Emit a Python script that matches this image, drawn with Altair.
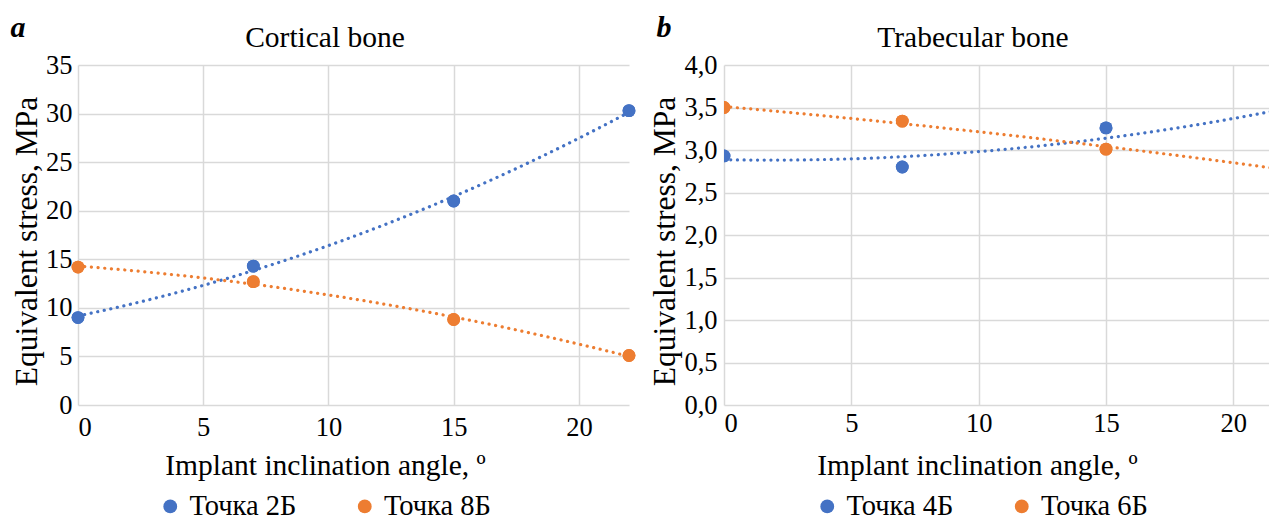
import altair as alt
import pandas as pd

# ---- data ----
angles = [0, 7, 15, 22]
cortical_2b = [9.0, 14.3, 21.0, 30.3]
cortical_8b = [14.2, 12.7, 8.8, 5.1]
trabecular_4b = [2.93, 2.80, 3.26, 3.44]
trabecular_6b = [3.50, 3.34, 3.01, 2.78]
x_ticks = [0, 5, 10, 15, 20]
cortical_y_ticks = [0, 5, 10, 15, 20, 25, 30, 35]
trabecular_y_ticks = [0, 0.5, 1.0, 1.5, 2.0, 2.5, 3.0, 3.5, 4.0]

BLUE = "#4472C4"
ORANGE = "#ED7D31"
FONT = "Liberation Serif"
GRID = "#D9D9D9"


def panel(vals_a, name_a, vals_b, name_b, title, letter, ydomain, yticks, ylabel_expr,
          xmax, width, xlab_pad, xtitle_pad, ylab_pad, xtitle_x, legend_x, title_x, clip, legend_y):
    df = pd.DataFrame({
        "x": angles + angles,
        "y": vals_a + vals_b,
        "s": [name_a] * len(angles) + [name_b] * len(angles),
    })
    xenc = alt.X("x:Q", scale=alt.Scale(domain=[0, xmax], nice=False, zero=False),
                 axis=alt.Axis(values=x_ticks, title="Implant inclination angle, º",
                               labelFont=FONT, labelFontSize=26.5, labelColor="black",
                               titleFont=FONT, titleFontSize=29.5, titleFontWeight="normal",
                               titleColor="black",
                               labelPadding=xlab_pad, titlePadding=xtitle_pad,
                               titleX=xtitle_x, titleAlign="center"))
    yenc = alt.Y("y:Q", scale=alt.Scale(domain=ydomain, nice=False),
                 axis=alt.Axis(values=yticks, title="Equivalent stress, MPa",
                               labelFont=FONT, labelFontSize=26.5, labelColor="black",
                               titleFont=FONT, titleFontSize=31.5, titleFontWeight="normal",
                               titleColor="black",
                               labelExpr=ylabel_expr, labelPadding=ylab_pad,
                               titlePadding=2.5, titleY=176, titleAlign="center"))
    sc = alt.Scale(domain=[name_a, name_b], range=[BLUE, ORANGE])
    color = alt.Color("s:N", scale=sc,
                      legend=alt.Legend(title=None, orient="none", direction="horizontal",
                                        legendX=legend_x, legendY=legend_y,
                                        symbolType="circle", symbolSize=190,
                                        symbolStrokeWidth=0, symbolOpacity=1,
                                        labelFont=FONT, labelFontSize=28.5, labelColor="black",
                                        labelOffset=5, columnPadding=53.5,
                                        labelLimit=300))
    base = alt.Chart(df)
    pts = base.mark_circle(size=165, opacity=1, clip=clip).encode(x=xenc, y=yenc, color=color)
    line = base.transform_regression(
        "x", "y", method="poly", order=2, extent=[0, 22], groupby=["s"]
    ).mark_line(strokeDash=[0.1, 6.6], strokeCap="round", strokeWidth=3.2, clip=clip).encode(
        x="x:Q", y="y:Q", stroke=alt.Stroke("s:N", scale=sc, legend=None))
    pts_top = base.mark_circle(size=165, opacity=1, clip=clip).encode(
        x="x:Q", y="y:Q", fill=alt.Fill("s:N", scale=sc, legend=None))
    txt = pd.DataFrame({"t": [letter]})
    lab = alt.Chart(txt).mark_text(
        font=FONT, fontSize=30, fontStyle="italic", fontWeight="bold",
        align="center", baseline="middle", color="black"
    ).encode(text="t:N", x=alt.value(-60), y=alt.value(-37))
    ttl = alt.Chart(pd.DataFrame({"t": [title]})).mark_text(
        font=FONT, fontSize=29.5, align="center", baseline="middle", color="black"
    ).encode(text="t:N", x=alt.value(title_x), y=alt.value(-27))
    return alt.layer(pts, line, pts_top, lab, ttl).properties(width=width, height=340)


left = panel(cortical_2b, "Точка 2Б", cortical_8b, "Точка 8Б", "Cortical bone", "a",
             [0, 35], cortical_y_ticks, "format(datum.value, 'd')",
             22, 551, 9, 11, 6, 247, 78, 247, False, 427)
right = panel(trabecular_4b, "Точка 4Б", trabecular_6b, "Точка 6Б", "Trabecular bone", "b",
              [0, 4], trabecular_y_ticks, "replace(format(datum.value, '.1f'), '.', ',')",
              21.4, 545, 5, 15, 7, 253, 89, 249, True, 427)

chart = alt.hconcat(left, right, spacing=13).resolve_scale(
    color="independent", stroke="independent", fill="independent"
).configure_view(
    stroke=None
).configure_axis(
    grid=True, gridColor=GRID, gridWidth=1.5, domain=False, ticks=False,
).properties(padding={"left": 2, "top": 5, "right": 0, "bottom": 0})

chart.save("out.html", embed_options={"renderer": "svg", "actions": False})
